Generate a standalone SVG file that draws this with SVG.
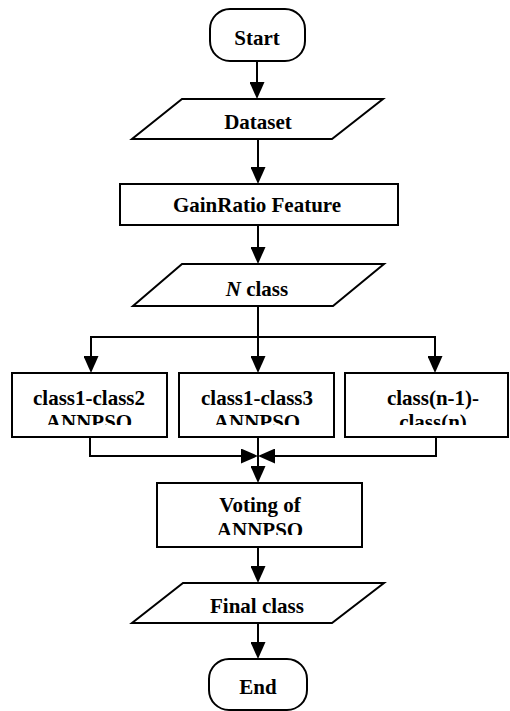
<svg xmlns="http://www.w3.org/2000/svg" width="510" height="711" viewBox="0 0 510 711">
<style>
.s{fill:#fff;stroke:#000;stroke-width:2}
.t{font-family:"Liberation Serif","Times New Roman",serif;font-weight:bold;font-size:21px;text-anchor:middle;fill:#000}
.c{fill:none;stroke:#000;stroke-width:2}
</style>
<defs>
<marker id="ah" markerUnits="userSpaceOnUse" markerWidth="17" markerHeight="15" refX="14" refY="7.5" orient="auto">
<path d="M0,0 L17,7.5 L0,15 Z" fill="#000"/>
</marker>
<clipPath id="cb1"><rect x="12" y="373" width="155" height="52"/></clipPath>
<clipPath id="cb2"><rect x="179" y="373" width="155" height="52"/></clipPath>
<clipPath id="cb3"><rect x="345" y="373" width="163" height="52"/></clipPath>
<clipPath id="cv"><rect x="157" y="483" width="205" height="52"/></clipPath>
</defs>
<g id="connectors">
<line class="c" x1="257" y1="61" x2="257" y2="96" marker-end="url(#ah)"/>
<line class="c" x1="258" y1="139" x2="258" y2="181" marker-end="url(#ah)"/>
<line class="c" x1="258" y1="225" x2="258" y2="261" marker-end="url(#ah)"/>
<line class="c" x1="258" y1="306" x2="258" y2="370" marker-end="url(#ah)"/>
<polyline class="c" points="91,370 91,337 435,337 435,370" marker-end="url(#ah)"/>
<line class="c" x1="91" y1="337" x2="91" y2="370" marker-end="url(#ah)"/>
<polyline class="c" points="90,437 90,456 255,456" marker-end="url(#ah)"/>
<polyline class="c" points="436,437 436,456 261,456" marker-end="url(#ah)"/>
<line class="c" x1="258" y1="437" x2="258" y2="480" marker-end="url(#ah)"/>
<line class="c" x1="258" y1="547" x2="258" y2="580" marker-end="url(#ah)"/>
<line class="c" x1="258" y1="623" x2="258" y2="656" marker-end="url(#ah)"/>
</g>
<g id="start">
<rect class="s" x="210" y="9" width="95" height="52" rx="20" ry="20"/>
<text class="t" x="257" y="45">Start</text>
</g>
<g id="dataset">
<polygon class="s" points="182,99 383,99 332,139 132,139"/>
<text class="t" x="258" y="129">Dataset</text>
</g>
<g id="gainratio">
<rect class="s" x="120" y="184" width="278" height="41"/>
<text class="t" x="257" y="212">GainRatio Feature</text>
</g>
<g id="nclass">
<polygon class="s" points="182,264 384,264 333,306 133,306"/>
<text class="t" x="257" y="296"><tspan font-style="italic">N</tspan> class</text>
</g>
<g id="box1">
<rect class="s" x="12" y="373" width="155" height="64"/>
<g clip-path="url(#cb1)"><text class="t" x="89" y="405">class1-class2</text><text class="t" x="89" y="429">ANNPSO</text></g>
</g>
<g id="box2">
<rect class="s" x="179" y="373" width="155" height="64"/>
<g clip-path="url(#cb2)"><text class="t" x="257" y="405">class1-class3</text><text class="t" x="257" y="429">ANNPSO</text></g>
</g>
<g id="box3">
<rect class="s" x="345" y="373" width="163" height="64"/>
<g clip-path="url(#cb3)"><text class="t" x="433" y="405">class(n-1)-</text><text class="t" x="433" y="429">class(n)</text></g>
</g>
<g id="voting">
<rect class="s" x="157" y="483" width="205" height="64"/>
<g clip-path="url(#cv)"><text class="t" x="260" y="512">Voting of</text><text class="t" x="260" y="537">ANNPSO</text></g>
</g>
<g id="finalclass">
<polygon class="s" points="183,583 384,583 332,623 132,623"/>
<text class="t" x="257" y="613">Final class</text>
</g>
<g id="end">
<rect class="s" x="209" y="659" width="98" height="51" rx="20" ry="20"/>
<text class="t" x="258" y="694">End</text>
</g>
</svg>
